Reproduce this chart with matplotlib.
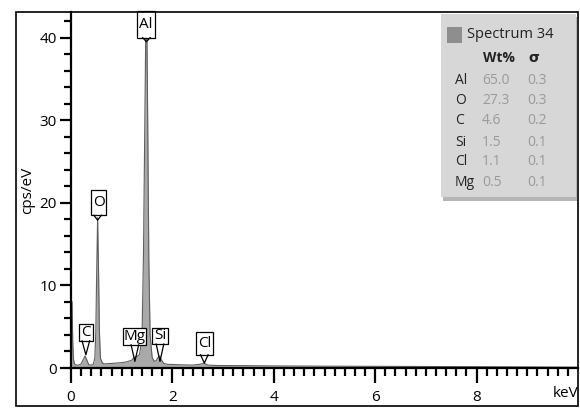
import matplotlib
matplotlib.use("Agg")
import matplotlib.pyplot as plt
from matplotlib import font_manager as fm
from matplotlib.patches import Rectangle
from matplotlib.lines import Line2D
import numpy as np

# ---- spectrum (energy in keV, counts in cps/eV) ----
energy = [0.00, 0.02, 0.035, 0.05, 0.07, 0.10, 0.15, 0.20, 0.24, 0.277, 0.31,
          0.35, 0.40, 0.44, 0.47, 0.49, 0.505, 0.525, 0.545, 0.56, 0.58, 0.62,
          0.65, 0.80, 1.00, 1.10, 1.20, 1.25, 1.30, 1.35, 1.40, 1.43, 1.46,
          1.487, 1.51, 1.535, 1.56, 1.60, 1.64, 1.68, 1.72, 1.75, 1.78, 1.83,
          1.90, 2.10, 2.40, 2.55, 2.62, 2.70, 2.90, 3.50, 4.00, 5.00, 6.00,
          7.00, 8.00, 9.00, 10.0]
counts = [8.2, 8.0, 3.0, 1.0, 0.5, 0.35, 0.35, 0.5, 1.0, 1.45, 1.0,
          0.4, 0.35, 0.45, 1.2, 4.5, 11.0, 18.2, 11.0, 4.5, 1.2, 0.6,
          0.5, 0.55, 0.65, 0.75, 0.95, 1.3, 1.4, 1.6, 3.5, 14.0, 32.0,
          48.0, 32.0, 13.0, 4.0, 1.3, 0.8, 0.9, 1.3, 1.45, 1.0, 0.55,
          0.45, 0.4, 0.35, 0.45, 0.6, 0.35, 0.3, 0.28, 0.25, 0.22, 0.2,
          0.18, 0.16, 0.13, 0.1]

# ---- peak labels ----
peak_names = ["Al", "O", "C", "Mg", "Si", "Cl"]
peak_energy = [1.487, 0.525, 0.293, 1.26, 1.755, 2.63]
label_box = [  # (x_left, x_right, y_bottom, y_top, y_tip)
    (1.30, 1.66, 40.0, 43.2, 39.5),
    (0.39, 0.70, 18.5, 21.6, 17.9),
    (0.15, 0.43, 3.3, 5.3, 1.6),
    (1.02, 1.47, 2.8, 4.8, 0.8),
    (1.59, 1.92, 2.9, 4.9, 0.8),
    (2.46, 2.81, 1.6, 4.4, 0.6),
]

# ---- quantification table ----
spectrum_name = "Spectrum 34"
elements = ["Al", "O", "C", "Si", "Cl", "Mg"]
wt_pct = ["65.0", "27.3", "4.6", "1.5", "1.1", "0.5"]
sigma = ["0.3", "0.3", "0.2", "0.1", "0.1", "0.1"]

x_ticks = [0, 2, 4, 6, 8]

installed = {f.name for f in fm.fontManager.ttflist}
base_font = "Liberation Sans Narrow" if "Liberation Sans Narrow" in installed else "Open Sans"
plt.rcParams["font.family"] = [base_font, "DejaVu Sans"]

W, H = 580, 408
fig = plt.figure(figsize=(W / 100, H / 100), dpi=100)


def fx(px):
    return px / W


def fy(py):
    return 1 - py / H


# outer frame
fig.patches.append(Rectangle((fx(16), fy(406)), fx(578) - fx(16), fy(12) - fy(406),
                             transform=fig.transFigure, fill=False,
                             edgecolor="black", lw=1.2, zorder=0))

ax = fig.add_axes([fx(71), fy(368), fx(578) - fx(71), fy(12) - fy(368)])
ax.set_facecolor("none")
ax.set_xlim(0, 10)
ax.set_ylim(0, 43.1)

ax.fill_between(energy, counts, 0, color="#a9a9a9", lw=0, zorder=2)
ax.plot(energy, counts, color="#5e5e5e", lw=0.8, zorder=3)

for s in ("top", "right"):
    ax.spines[s].set_visible(False)
for s in ("left", "bottom"):
    ax.spines[s].set_linewidth(1.6)
    ax.spines[s].set_zorder(6)

ax.set_xticks(x_ticks)
ax.set_xticks(np.arange(0.2, 10.0, 0.2), minor=True)
ax.set_yticks([0, 10, 20, 30, 40])
ax.set_yticks(np.arange(2, 43, 2), minor=True)
ax.tick_params(axis="x", which="major", length=11, width=1.6, pad=5, labelsize=11)
ax.tick_params(axis="x", which="minor", length=6, width=1.6)
ax.tick_params(axis="y", which="major", length=8, width=1.6, pad=2, labelsize=11)
ax.tick_params(axis="y", which="minor", length=5, width=1.6)
ax.text(1.0, -0.05, "keV", transform=ax.transAxes, ha="right", va="top",
        fontsize=11)
ax.set_ylabel("cps/eV", fontsize=11, labelpad=3)

# peak callouts
for name, e, (x0, x1, yb, yt, ytip) in zip(peak_names, peak_energy, label_box):
    ax.add_patch(Rectangle((x0, yb), x1 - x0, yt - yb, facecolor="white",
                           edgecolor="black", lw=0.9, zorder=7, clip_on=False))
    hw = 0.075
    ax.add_line(Line2D([e - hw, e, e + hw], [yb, ytip, yb], color="black",
                       lw=0.9, zorder=7))
    ax.text((x0 + x1) / 2, (yb + yt) / 2, name, ha="center", va="center",
            fontsize=11, zorder=8)

# quantification panel
fig.patches.append(Rectangle((fx(443), fy(201)), fx(577) - fx(443), fy(17) - fy(201),
                             transform=fig.transFigure, facecolor="#b5b5b5",
                             edgecolor="none", zorder=8))
fig.patches.append(Rectangle((fx(441), fy(197)), fx(576) - fx(441), fy(14) - fy(197),
                             transform=fig.transFigure, facecolor="#d7d7d7",
                             edgecolor="none", zorder=9))
fig.patches.append(Rectangle((fx(447), fy(43)), fx(462) - fx(447), fy(27) - fy(43),
                             transform=fig.transFigure, facecolor="#8e8e8e",
                             edgecolor="none", zorder=10))
fig.text(fx(467), fy(35), spectrum_name, ha="left", va="center", fontsize=10.5,
         color="#222222", zorder=11)
fig.text(fx(483), fy(58), "Wt%", ha="left", va="center", fontsize=10,
         fontweight="bold", color="#222222", zorder=11)
fig.text(fx(528), fy(58), "σ", ha="left", va="center", fontsize=10,
         fontweight="bold", color="#222222", zorder=11,
         family=["DejaVu Sans"])
row_y = [81, 101, 121, 142, 162, 183]
for el, w, sg, py in zip(elements, wt_pct, sigma, row_y):
    fig.text(fx(455), fy(py), el, ha="left", va="center", fontsize=10,
             color="#222222", zorder=11)
    fig.text(fx(482), fy(py), w, ha="left", va="center", fontsize=10,
             color="#9a9a9a", zorder=11)
    fig.text(fx(527), fy(py), sg, ha="left", va="center", fontsize=10,
             color="#9a9a9a", zorder=11)

fig.savefig("out.png", dpi=100)
